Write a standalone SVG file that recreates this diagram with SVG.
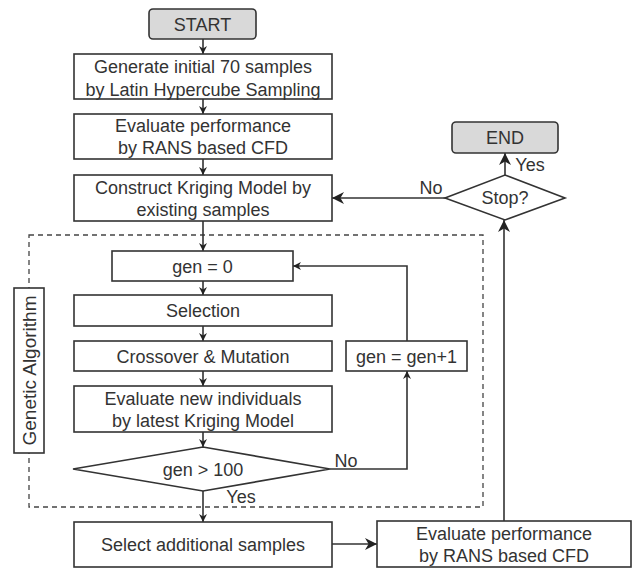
<svg xmlns="http://www.w3.org/2000/svg" width="635" height="569" viewBox="0 0 635 569">
<style>
.box{fill:#fff;stroke:#333;stroke-width:1.6}
.term{fill:#d9d9d9;stroke:#333;stroke-width:1.6}
.ln{fill:none;stroke:#333;stroke-width:1.6}
.dash{fill:none;stroke:#444;stroke-width:1.3;stroke-dasharray:5,4}
text{font-family:"Liberation Sans",Arial,sans-serif;font-size:18px;fill:#333;text-anchor:middle}
</style>
<defs>
<marker id="ah" viewBox="0 0 10 10" refX="10" refY="5" markerWidth="8" markerHeight="8" markerUnits="userSpaceOnUse" orient="auto">
<path d="M0,0 L10,5 L0,10 L3,5 z" fill="#222"/>
</marker>
<marker id="ahl" viewBox="0 0 10 10" refX="10" refY="5" markerWidth="12" markerHeight="12" markerUnits="userSpaceOnUse" orient="auto">
<path d="M0,0 L10,5 L0,10 L3,5 z" fill="#222"/>
</marker>
</defs>
<g id="ga-region">
<rect class="dash" x="29" y="235" width="454" height="272"/>
<rect class="box" x="14" y="288" width="30" height="165"/>
<text transform="translate(35.5,370.5) rotate(-90)" style="font-size:19px">Genetic Algorithm</text>
</g>
<g id="connectors">
<line class="ln" x1="203" y1="39" x2="203" y2="54" marker-end="url(#ah)"/>
<line class="ln" x1="203" y1="99" x2="203" y2="114" marker-end="url(#ah)"/>
<line class="ln" x1="203" y1="159" x2="203" y2="175" marker-end="url(#ah)"/>
<line class="ln" x1="203" y1="221" x2="203" y2="251" marker-end="url(#ah)"/>
<line class="ln" x1="203" y1="281" x2="203" y2="295" marker-end="url(#ah)"/>
<line class="ln" x1="203" y1="326" x2="203" y2="341" marker-end="url(#ah)"/>
<line class="ln" x1="203" y1="371" x2="203" y2="386" marker-end="url(#ah)"/>
<line class="ln" x1="203" y1="432" x2="203" y2="447" marker-end="url(#ah)"/>
<line class="ln" x1="203" y1="491" x2="203" y2="522" marker-end="url(#ah)"/>
<polyline class="ln" points="330,469 407,469 407,371" marker-end="url(#ah)"/>
<polyline class="ln" points="407,341 407,266 293,266" marker-end="url(#ah)"/>
<line class="ln" x1="332" y1="544" x2="377" y2="544" marker-end="url(#ahl)"/>
<line class="ln" x1="504" y1="521" x2="504" y2="220" marker-end="url(#ahl)"/>
<line class="ln" x1="445" y1="198" x2="332" y2="198" marker-end="url(#ahl)"/>
<line class="ln" x1="505" y1="175" x2="505" y2="153" marker-end="url(#ahl)"/>
<text x="431" y="194">No</text>
<text x="530" y="171">Yes</text>
<text x="346" y="467">No</text>
<text x="241" y="503">Yes</text>
</g>
<g id="start">
<rect class="term" x="149" y="9" width="107" height="30" rx="4"/>
<text x="202.5" y="30.5">START</text>
</g>
<g id="generate">
<rect class="box" x="74" y="54" width="258" height="45"/>
<text x="203" y="73">Generate initial 70 samples</text>
<text x="203" y="95.5">by Latin Hypercube Sampling</text>
</g>
<g id="evaluate1">
<rect class="box" x="74" y="114" width="258" height="45"/>
<text x="203" y="132">Evaluate performance</text>
<text x="203" y="154">by RANS based CFD</text>
</g>
<g id="construct">
<rect class="box" x="74" y="175" width="258" height="46"/>
<text x="203" y="193.5">Construct Kriging Model by</text>
<text x="203" y="215.5">existing samples</text>
</g>
<g id="gen0">
<rect class="box" x="112" y="251" width="181" height="30"/>
<text x="202.5" y="272.5">gen = 0</text>
</g>
<g id="selection">
<rect class="box" x="74" y="295" width="258" height="31"/>
<text x="203" y="317">Selection</text>
</g>
<g id="crossover">
<rect class="box" x="74" y="341" width="258" height="30"/>
<text x="203" y="362.5">Crossover &amp; Mutation</text>
</g>
<g id="evalnew">
<rect class="box" x="74" y="386" width="258" height="46"/>
<text x="203" y="404.5">Evaluate new individuals</text>
<text x="203" y="426.5">by latest Kriging Model</text>
</g>
<g id="gencheck">
<polygon class="box" points="73,469 203,447 330,469 203,491"/>
<text x="203" y="475.5">gen &gt; 100</text>
</g>
<g id="geninc">
<rect class="box" x="346" y="341" width="121" height="30"/>
<text x="406.5" y="362.5">gen = gen+1</text>
</g>
<g id="select">
<rect class="box" x="74" y="522" width="258" height="45"/>
<text x="203" y="551">Select additional samples</text>
</g>
<g id="evaluate2">
<rect class="box" x="377" y="521" width="254" height="46"/>
<text x="504" y="539.5">Evaluate performance</text>
<text x="504" y="561.5">by RANS based CFD</text>
</g>
<g id="stop">
<polygon class="box" points="445,198 505,175 565,198 505,220"/>
<text x="505" y="204">Stop?</text>
</g>
<g id="end">
<rect class="term" x="452" y="122" width="106" height="31" rx="4"/>
<text x="505" y="144">END</text>
</g>
</svg>
